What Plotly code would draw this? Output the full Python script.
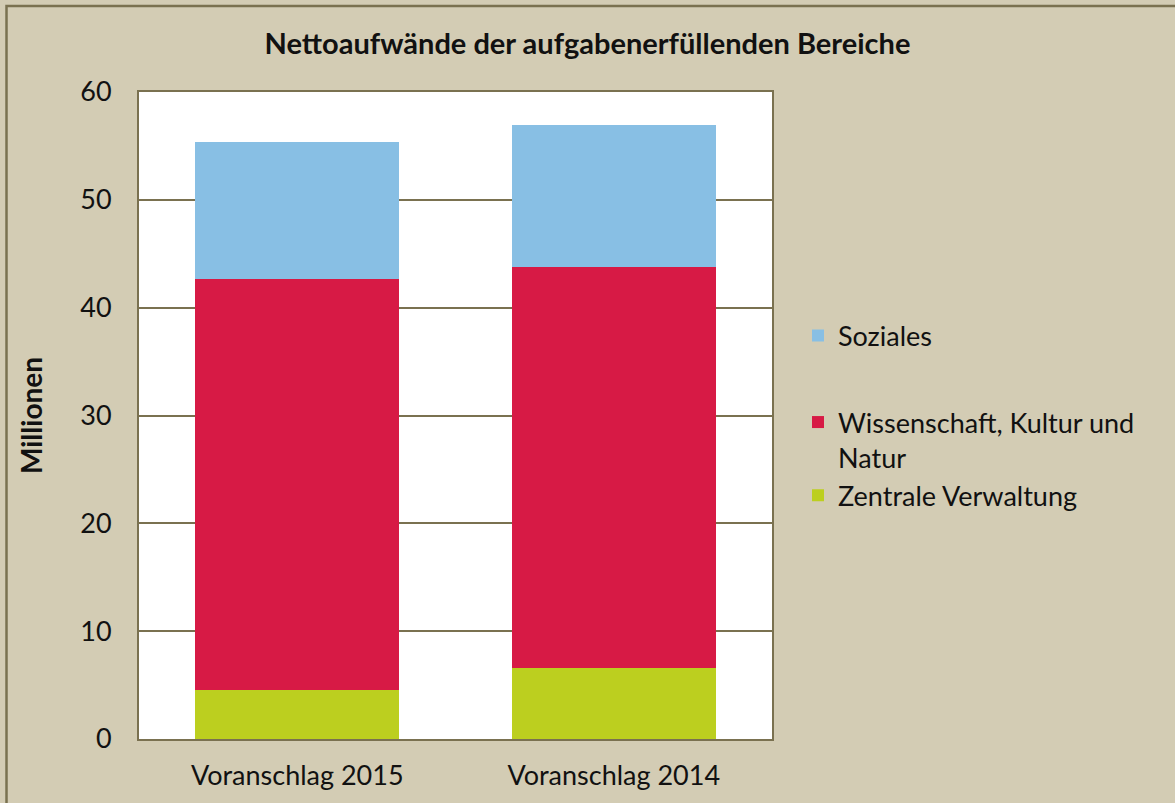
import plotly.graph_objects as go

categories = ["Voranschlag 2015", "Voranschlag 2014"]
zentrale = [4.5, 6.55]
wissenschaft = [38.16, 37.26]
soziales = [12.66, 13.15]
series_names = ["Zentrale Verwaltung", "Wissenschaft, Kultur und<br>Natur", "Soziales"]
colors = ["#bccf1f", "#d71a45", "#88bfe4"]
y_ticks = [0, 10, 20, 30, 40, 50, 60]

BG = "#d3ccb4"
OLIVE = "#7a7150"
FONT = "Lato"

L, R, T, B = 139, 403, 92, 64
W, H = 1175, 803
pw, ph = W - L - R, H - T - B

fig = go.Figure()
legends = ["legend", "legend", "legend2"]
for name, vals, col, lg in zip(series_names, [zentrale, wissenschaft, soziales], colors, legends):
    fig.add_trace(go.Bar(x=categories, y=vals, name=name, marker=dict(color=col, line=dict(width=0)),
                         legend=lg))

leg_common = dict(xanchor="left", yanchor="middle", valign="top", bgcolor="rgba(0,0,0,0)",
                  font=dict(family=FONT, size=27, color="#111111"), itemwidth=30)

fig.update_layout(
    width=W, height=H,
    margin=dict(l=L, r=R, t=T, b=B),
    barmode="stack", bargap=0.355,
    paper_bgcolor=BG, plot_bgcolor="white",
    font=dict(family=FONT, color="#111111", size=27),
    title=dict(text="<b>Nettoaufwände der aufgabenerfüllenden Bereiche</b>", x=0.5, xanchor="center",
               y=1 - 44 / H, yanchor="middle", font=dict(family=FONT, size=29, color="#111111")),
    showlegend=True,
    legend=dict(x=(798 - L) / pw, y=1 - (459 - T) / ph, traceorder="reversed", **leg_common),
    legend2=dict(x=(798 - L) / pw, y=1 - (336 - T) / ph, **leg_common),
    xaxis=dict(showgrid=False, showline=True, linecolor=OLIVE, linewidth=2, mirror=True,
               ticks="", tickfont=dict(size=27), ticklabelstandoff=12),
    yaxis=dict(range=[0, 60], tickvals=y_ticks, showgrid=True, gridcolor=OLIVE, gridwidth=1.5,
               showline=True, linecolor=OLIVE, linewidth=2, mirror=True, zeroline=False,
               ticks="", tickfont=dict(size=27), ticklabelstandoff=20,
               title=dict(text="<b>Millionen</b>", font=dict(size=28), standoff=29)),
    shapes=[dict(type="rect", xref="paper", yref="paper",
                 x0=(6.5 - L) / pw, x1=(W + 5 - L) / pw,
                 y0=1 + (T - 6) / ph, y1=-(B + 5) / ph,
                 line=dict(color=OLIVE, width=2.5), fillcolor="rgba(0,0,0,0)", layer="below")],
)

fig.write_html("out.html")
